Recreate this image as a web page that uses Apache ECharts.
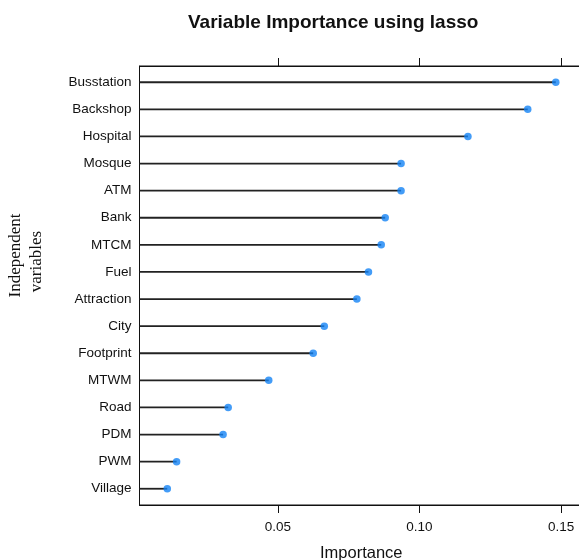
<!DOCTYPE html>
<html>
<head>
<meta charset="utf-8">
<script src="https://cdn.jsdelivr.net/npm/echarts@6/dist/echarts.min.js"></script>
<style>
html,body{margin:0;padding:0;background:#fff;}
#chart{width:579px;height:560px;}
</style>
</head>
<body>
<div id="chart"></div>
<script>
// Data
const categories = ['Busstation','Backshop','Hospital','Mosque','ATM','Bank','MTCM','Fuel','Attraction','City','Footprint','MTWM','Road','PDM','PWM','Village'];
const importance = [0.1481,0.1382,0.1171,0.0935,0.0935,0.0879,0.0865,0.0820,0.0779,0.0664,0.0625,0.0468,0.0325,0.0307,0.0143,0.0110];
const xTickValues = [0.05, 0.10, 0.15];
const titleText = 'Variable Importance using lasso';
const xAxisTitle = 'Importance';
const yAxisTitleLines = ['Independent', 'variables'];

const X_MIN = 0.0012, X_MAX = 0.1577;
const rowPositions = categories.map((c, i) => i + 1);
const points = importance.map((v, i) => [v, i + 1]);

const chart = echarts.init(document.getElementById('chart'), null, {renderer: 'canvas'});
const SANS = 'Liberation Sans, Arial, Helvetica, sans-serif';
const SERIF = 'Liberation Serif, Times New Roman, serif';

const option = {
  backgroundColor: '#ffffff',
  animation: false,
  title: {
    text: titleText,
    left: 183,
    top: 8,
    textStyle: {fontFamily: SANS, fontSize: 19, fontWeight: 'bold', color: '#111'}
  },
  graphic: [
    {type: 'text', x: 15.5, y: 255.5, rotation: Math.PI / 2,
     style: {text: yAxisTitleLines[0], font: '17px ' + SERIF, fill: '#111', align: 'center', verticalAlign: 'middle'}},
    {type: 'text', x: 37, y: 261.5, rotation: Math.PI / 2,
     style: {text: yAxisTitleLines[1], font: '17px ' + SERIF, fill: '#111', align: 'center', verticalAlign: 'middle'}}
  ],
  grid: {
    left: 139.5, top: 66, right: -4, bottom: 55,
    outerBoundsMode: 'none', containLabel: false,
    show: true, borderColor: '#111', borderWidth: 1, backgroundColor: 'transparent'
  },
  xAxis: [
    {
      type: 'value', position: 'bottom', min: X_MIN, max: X_MAX,
      axisLine: {show: true, lineStyle: {color: '#111', width: 1}},
      axisTick: {show: true, customValues: xTickValues, length: 8, inside: false, lineStyle: {color: '#111', width: 1}},
      axisLabel: {show: true, customValues: xTickValues, margin: 15, fontFamily: SANS, fontSize: 13.5, color: '#111',
                  formatter: v => v.toFixed(2)},
      splitLine: {show: false},
      name: xAxisTitle, nameLocation: 'middle', nameGap: 40,
      nameTextStyle: {fontFamily: SANS, fontSize: 16.5, color: '#111'}
    },
    {
      type: 'value', position: 'top', min: X_MIN, max: X_MAX,
      axisLine: {show: true, lineStyle: {color: '#111', width: 1}},
      axisTick: {show: true, customValues: xTickValues, length: 8, inside: false, lineStyle: {color: '#111', width: 1}},
      axisLabel: {show: false},
      splitLine: {show: false}
    }
  ],
  yAxis: {
    type: 'value', min: 0.4, max: 16.6, inverse: true,
    axisLine: {show: true, lineStyle: {color: '#111', width: 1}},
    axisTick: {show: false},
    axisLabel: {show: true, customValues: rowPositions, margin: 8, fontFamily: SANS, fontSize: 13.5, color: '#111',
                formatter: v => categories[Math.round(v) - 1]},
    splitLine: {show: false}
  },
  series: [
    {
      type: 'custom',
      xAxisIndex: 0,
      data: points,
      renderItem: function (params, api) {
        const y = api.value(1);
        const start = api.coord([X_MIN, y]);
        const end = api.coord([api.value(0), y]);
        return {
          type: 'line',
          shape: {x1: start[0], y1: start[1], x2: end[0], y2: end[1]},
          style: {stroke: '#222', lineWidth: 1.8}
        };
      },
      z: 2
    },
    {
      type: 'scatter',
      xAxisIndex: 0,
      data: points,
      symbol: 'circle',
      symbolSize: 7.5,
      itemStyle: {color: '#1483f5'},
      z: 3
    }
  ]
};
chart.setOption(option);
</script>
</body>
</html>
